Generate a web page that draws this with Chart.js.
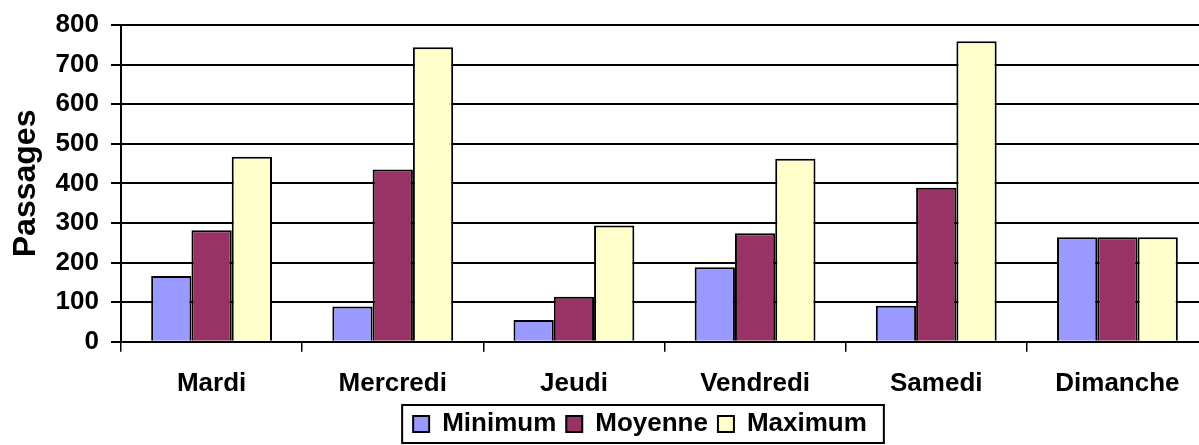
<!DOCTYPE html>
<html>
<head>
<meta charset="utf-8">
<script src="https://cdn.jsdelivr.net/npm/chart.js@4/dist/chart.umd.min.js"></script>
<style>
  html, body { margin: 0; padding: 0; background: #fff; overflow: hidden; }
  #wrap { width: 1280px; height: 445px; }
</style>
</head>
<body>
<div id="wrap"><canvas id="passChart"></canvas></div>
<script>
// Données
const jours = ['Mardi', 'Mercredi', 'Jeudi', 'Vendredi', 'Samedi', 'Dimanche'];
const minimum = [166, 89, 55, 188, 91, 264];
const moyenne = [282, 435, 114, 274, 389, 264];
const maximum = [467, 744, 294, 462, 759, 264];
const yTicks = [0, 100, 200, 300, 400, 500, 600, 700, 800];

Chart.defaults.font.family = "'Liberation Sans', Arial, sans-serif";
Chart.defaults.font.weight = 'bold';
Chart.defaults.color = '#000';

// légende décalée (centrée sur la zone entière) + cadre noir
const legendBorder = {
  id: 'legendBorder',
  afterUpdate(chart) {
    const lg = chart.legend;
    if (!lg) return;
    const dx = 36, dy = -14;
    lg.left += dx; lg.right += dx;
    lg.top += dy; lg.bottom += dy;
    lg.legendHitBoxes.forEach(b => { b.left += dx; b.top += dy; });
  },
  afterDraw(chart) {
    const lg = chart.legend;
    if (!lg || !lg.legendHitBoxes.length) return;
    const boxes = lg.legendHitBoxes;
    const x0 = Math.min(...boxes.map(b => b.left)) - 11;
    const x1 = Math.max(...boxes.map(b => b.left + b.width)) + 17;
    const y0 = Math.min(...boxes.map(b => b.top)) - 6;
    const y1 = Math.max(...boxes.map(b => b.top + b.height)) + 6;
    const ctx = chart.ctx;
    ctx.save();
    ctx.strokeStyle = '#000';
    ctx.lineWidth = 2;
    ctx.strokeRect(x0, y0, x1 - x0, y1 - y0);
    ctx.restore();
  }
};

const barStyle = { borderColor: '#000', borderWidth: 2, categoryPercentage: 0.667, barPercentage: 1 };

const ctx = document.getElementById('passChart').getContext('2d');
new Chart(ctx, {
  type: 'bar',
  data: {
    labels: jours,
    datasets: [
      { label: 'Minimum', data: minimum, backgroundColor: '#9999FF', ...barStyle },
      { label: 'Moyenne', data: moyenne, backgroundColor: '#993366', ...barStyle },
      { label: 'Maximum', data: maximum, backgroundColor: '#FFFFCC', ...barStyle }
    ]
  },
  plugins: [legendBorder],
  options: {
    responsive: true,
    maintainAspectRatio: false,
    animation: false,
    layout: { padding: { top: 0, right: 72, bottom: -16, left: 0 } },
    plugins: {
      tooltip: { enabled: false },
      legend: {
        position: 'bottom',
        labels: {
          boxWidth: 16,
          boxHeight: 16,
          padding: 10,
          color: '#000',
          font: { size: 26, weight: 'bold' }
        }
      }
    },
    scales: {
      x: {
        grid: { offset: true, drawOnChartArea: false, drawTicks: true, tickLength: 10, color: '#000', lineWidth: 1.5 },
        border: { color: '#000', width: 2 },
        ticks: { padding: 16, font: { size: 26, weight: 'bold' }, color: '#000' }
      },
      y: {
        min: 0,
        max: 800,
        afterBuildTicks: scale => { scale.ticks = yTicks.map(v => ({ value: v })); },
        afterFit: scale => { scale.width = 121; },
        grid: { color: '#000', lineWidth: 2, tickLength: 10 },
        border: { color: '#000', width: 2 },
        ticks: { padding: 12, font: { size: 26, weight: 'bold', lineHeight: 1 }, color: '#000' },
        title: { display: true, text: 'Passages', padding: { top: 7, bottom: 0 }, font: { size: 32, weight: 'bold' }, color: '#000' }
      }
    }
  }
});
</script>
</body>
</html>
